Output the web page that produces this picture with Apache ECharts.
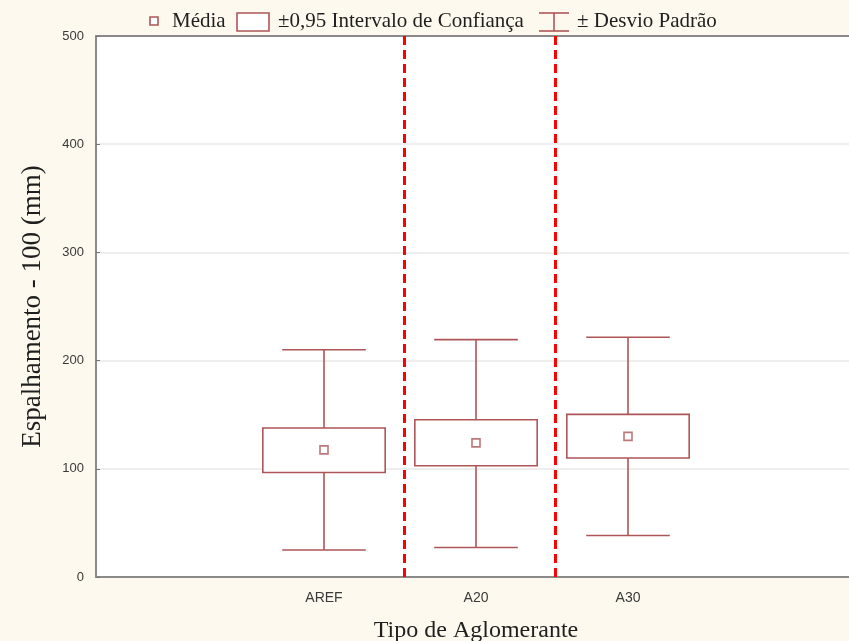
<!DOCTYPE html>
<html><head><meta charset="utf-8">
<script src="https://cdn.jsdelivr.net/npm/echarts@6/dist/echarts.min.js"></script>
<style>html,body{margin:0;padding:0;background:#FEF9EE;overflow:hidden;}#c{width:849px;height:641px;}</style>
</head><body><div id="c"></div>
<script>
const categories = ['', 'AREF', 'A20', 'A30', ''];
const groupIndex = [1, 2, 3];
const means = [117.5, 124, 130];
const ciLow = [96.6, 102.8, 110];
const ciHigh = [137.7, 145.4, 150.3];
const sdLow = [25, 27.2, 38.3];
const sdHigh = [210, 219.4, 221.6];
const dividers = [2.03, 3.02];
const yTicks = [0, 100, 200, 300, 400, 500];

const C = '#AE5558';
const serif = '"Liberation Serif", "DejaVu Serif", serif';
const sans = '"Liberation Sans", Arial, sans-serif';

const boxData = groupIndex.map((g, i) => [g, ciLow[i], ciHigh[i]]);
const whiskerData = groupIndex.map((g, i) => [g, sdLow[i], sdHigh[i]]);
const meanData = groupIndex.map((g, i) => [g, means[i]]);

const chart = echarts.init(document.getElementById('c'), null, {renderer: 'canvas'});

function renderWhisker(params, api) {
  const x = api.value(0);
  const lo = api.coord([x, api.value(1)]);
  const hi = api.coord([x, api.value(2)]);
  const cw = api.size([1, 0])[0] * 0.55;
  const st = {stroke: C, lineWidth: 1.6};
  return {type: 'group', children: [
    {type: 'line', shape: {x1: lo[0], y1: lo[1], x2: hi[0], y2: hi[1]}, style: st},
    {type: 'line', shape: {x1: lo[0] - cw / 2, y1: lo[1], x2: lo[0] + cw / 2, y2: lo[1]}, style: st},
    {type: 'line', shape: {x1: hi[0] - cw / 2, y1: hi[1], x2: hi[0] + cw / 2, y2: hi[1]}, style: st}
  ]};
}
function renderBox(params, api) {
  const x = api.value(0);
  const lo = api.coord([x, api.value(1)]);
  const hi = api.coord([x, api.value(2)]);
  const bw = api.size([1, 0])[0] * 0.805;
  return {type: 'rect', shape: {x: lo[0] - bw / 2, y: hi[1], width: bw, height: lo[1] - hi[1]},
    style: {fill: '#fff', stroke: C, lineWidth: 1.6}};
}

const legendY = 21;
const LF = '21px ' + serif;
const legendGraphic = [
  {type: 'rect', shape: {x: 150, y: legendY - 4, width: 8, height: 8}, style: {fill: '#fff', stroke: C, lineWidth: 1.6}},
  {type: 'text', x: 172, y: legendY, style: {text: 'Média', font: LF, fill: '#1f1f1f', verticalAlign: 'middle'}},
  {type: 'rect', shape: {x: 237, y: legendY - 8, width: 32, height: 18}, style: {fill: '#fff', stroke: C, lineWidth: 1.6}},
  {type: 'text', x: 278, y: legendY, style: {text: '±0,95 Intervalo de Confiança', font: LF, fill: '#1f1f1f', verticalAlign: 'middle'}},
  {type: 'line', shape: {x1: 539, y1: legendY - 8, x2: 569, y2: legendY - 8}, style: {stroke: C, lineWidth: 1.6}},
  {type: 'line', shape: {x1: 539, y1: legendY + 10, x2: 569, y2: legendY + 10}, style: {stroke: C, lineWidth: 1.6}},
  {type: 'line', shape: {x1: 554, y1: legendY - 8, x2: 554, y2: legendY + 10}, style: {stroke: C, lineWidth: 1.6}},
  {type: 'text', x: 577, y: legendY, style: {text: '± Desvio Padrão', font: LF, fill: '#1f1f1f', verticalAlign: 'middle'}}
];

const axisGrey = '#8a8a8a';
chart.setOption({
  backgroundColor: '#FEF9EE',
  animation: false,
  graphic: legendGraphic,
  grid: {left: 96, top: 36, right: -7, bottom: 64, show: true, backgroundColor: '#ffffff', borderWidth: 0,
    containLabel: false, outerBoundsMode: 'none'},
  xAxis: [
    {type: 'category', data: categories, position: 'bottom',
      axisLine: {lineStyle: {color: axisGrey, width: 2}},
      axisTick: {alignWithLabel: true, inside: true, length: 4, lineStyle: {color: '#555'}},
      axisLabel: {color: '#3a3a3a', fontFamily: sans, fontSize: 14, margin: 14},
      name: 'Tipo de Aglomerante', nameLocation: 'middle', nameGap: 42,
      nameTextStyle: {fontFamily: serif, fontSize: 24, color: '#1f1f1f'}},
    {type: 'category', data: categories, position: 'top',
      axisLine: {show: true, lineStyle: {color: axisGrey, width: 2}},
      axisTick: {alignWithLabel: true, inside: true, length: 4, lineStyle: {color: '#555'}},
      axisLabel: {show: false}},
    {type: 'value', min: 0, max: 5, show: false}
  ],
  yAxis: {
    type: 'value', min: 0, max: 500, interval: 100,
    axisLine: {show: true, lineStyle: {color: axisGrey, width: 2}},
    axisTick: {show: true, inside: true, length: 4, lineStyle: {color: '#777'}},
    axisLabel: {color: '#3a3a3a', fontFamily: sans, fontSize: 13, margin: 12,
      formatter: v => yTicks.includes(v) ? String(v) : ''},
    splitLine: {show: true, lineStyle: {color: '#e8e8e8', width: 1.5}},
    name: 'Espalhamento - 100 (mm)', nameLocation: 'middle', nameGap: 50,
    nameTextStyle: {fontFamily: serif, fontSize: 27, color: '#1f1f1f'}
  },
  series: [
    {type: 'custom', name: 'SD', xAxisIndex: 0, renderItem: renderWhisker, data: whiskerData, z: 2},
    {type: 'custom', name: 'CI', xAxisIndex: 0, renderItem: renderBox, data: boxData, z: 3},
    {type: 'scatter', name: 'Média', xAxisIndex: 0, data: meanData, symbol: 'rect', symbolSize: 8,
      itemStyle: {color: '#fff', borderColor: C, borderWidth: 1.6}, z: 4},
    {type: 'line', name: 'div', xAxisIndex: 2, data: [], z: 5,
      markLine: {silent: true, symbol: 'none', label: {show: false},
        lineStyle: {color: '#FF0000', type: [9, 5], width: 3},
        data: dividers.map(v => ({xAxis: v}))}}
  ]
});
</script></body></html>
